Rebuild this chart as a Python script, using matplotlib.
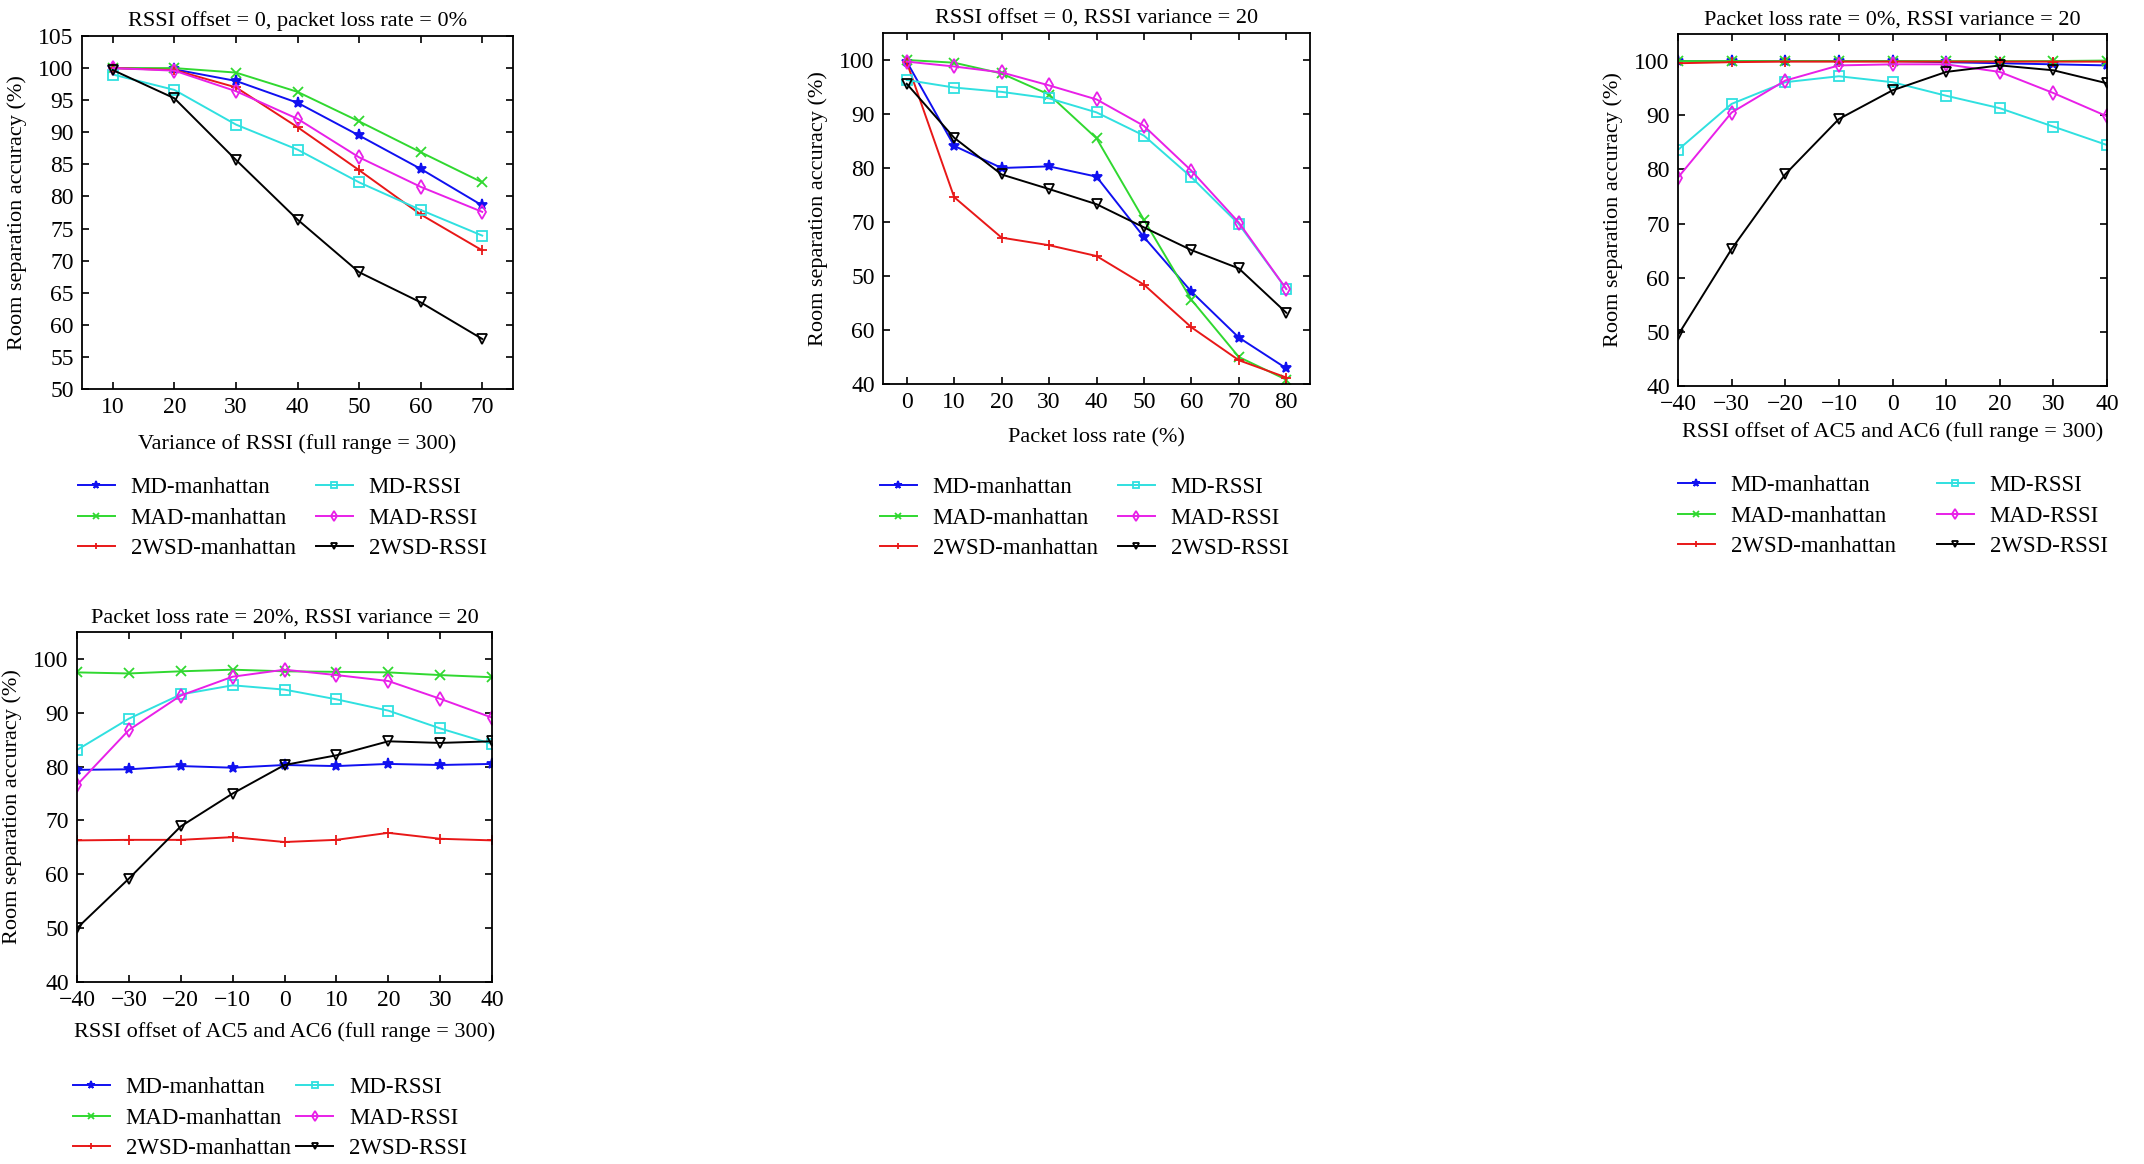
import numpy as np
import matplotlib
matplotlib.use("Agg")
import matplotlib.pyplot as plt

plt.rcParams['font.family'] = ['Liberation Serif', 'DejaVu Serif']

names = ["MD-manhattan", "MAD-manhattan", "2WSD-manhattan",
         "MD-RSSI", "MAD-RSSI", "2WSD-RSSI"]
colors = ["#1010f0", "#30d830", "#e81818", "#30e0e0", "#e820e8", "black"]
markers = ["*", "x", "+", "s", "d", "v"]

# panel 1: variance of RSSI
var_x = [10, 20, 30, 40, 50, 60, 70]
var_y = [
    [100.0, 99.8, 98.0, 94.6, 89.5, 84.3, 78.6],
    [100.0, 100.0, 99.3, 96.3, 91.7, 86.9, 82.2],
    [100.0, 99.7, 97.0, 90.8, 84.1, 77.2, 71.6],
    [99.0, 96.6, 91.2, 87.3, 82.2, 77.9, 73.9],
    [100.0, 99.6, 96.4, 92.1, 86.1, 81.5, 77.6],
    [99.7, 95.3, 85.7, 76.4, 68.2, 63.5, 57.8],
]

# panel 2: packet loss rate
loss_x = [0, 10, 20, 30, 40, 50, 60, 70, 80]
loss_y = [
    [99.7, 84.1, 80.0, 80.3, 78.4, 67.2, 57.1, 48.6, 42.9],
    [100.0, 99.5, 97.5, 93.6, 85.5, 70.4, 55.6, 45.0, 40.8],
    [99.6, 74.6, 67.1, 65.7, 63.7, 58.4, 50.5, 44.4, 41.2],
    [96.3, 94.9, 94.1, 92.9, 90.3, 86.0, 78.3, 69.6, 57.6],
    [99.7, 98.8, 97.7, 95.3, 92.7, 87.8, 79.5, 69.9, 57.6],
    [95.6, 85.6, 78.8, 76.1, 73.3, 69.0, 64.8, 61.4, 53.2],
]
loss_yticklabels = ["40", "60", "50", "70", "80", "90", "100"]

# panel 3: RSSI offset, packet loss 0%
off_x = [-40, -30, -20, -10, 0, 10, 20, 30, 40]
off0_y = [
    [100.0, 100.0, 100.0, 100.0, 100.0, 99.8, 99.6, 99.4, 99.2],
    [100.0, 100.0, 100.0, 100.0, 100.0, 100.0, 100.0, 100.0, 100.1],
    [99.6, 99.8, 99.9, 99.9, 99.9, 99.9, 99.9, 99.9, 99.9],
    [83.6, 92.1, 96.1, 97.2, 96.1, 93.6, 91.3, 87.9, 84.5],
    [78.5, 90.5, 96.4, 99.2, 99.4, 99.4, 98.0, 94.1, 89.8],
    [49.4, 65.3, 79.1, 89.3, 94.6, 98.0, 99.2, 98.3, 95.9],
]

# panel 4: RSSI offset, packet loss 20%
off20_y = [
    [79.4, 79.5, 80.1, 79.8, 80.3, 80.1, 80.5, 80.3, 80.5],
    [97.5, 97.3, 97.7, 98.0, 97.7, 97.6, 97.5, 97.0, 96.6],
    [66.3, 66.4, 66.4, 66.9, 66.0, 66.4, 67.7, 66.6, 66.3],
    [83.1, 88.9, 93.4, 95.1, 94.3, 92.5, 90.4, 87.1, 84.2],
    [76.6, 86.8, 93.2, 96.7, 98.0, 97.0, 95.9, 92.6, 89.1],
    [50.0, 59.2, 68.9, 75.0, 80.3, 82.1, 84.7, 84.4, 84.7],
]

W, H = 2144, 1164
fig = plt.figure(figsize=(W / 100., H / 100.), dpi=100)


def make_panel(rect, x, ys, title, xlabel, xlim, ylim, yticks, xticks, xpad, legend_xy, colsp,
               yticklabels=None):
    ax = fig.add_axes(rect)
    for i in range(6):
        filled = markers[i] in ("*", "x", "+")
        ax.plot(x, ys[i], color=colors[i], lw=1.4, marker=markers[i],
                ms=7 if markers[i] != "*" else 8,
                mfc=colors[i] if filled else "none", mew=1.3, label=names[i])
    ax.set_xlim(xlim)
    ax.set_ylim(ylim)
    ax.set_xticks(xticks)
    ax.set_yticks(yticks)
    if yticklabels is not None:
        ax.set_yticklabels(yticklabels)
    ax.tick_params(direction="in", top=True, right=True, length=5, width=1.2, labelsize=17, pad=6)
    for s in ax.spines.values():
        s.set_linewidth(1.3)
    ax.set_title(title, fontsize=16, pad=7)
    ax.set_xlabel(xlabel, fontsize=16, labelpad=xpad)
    ax.set_ylabel("Room separation accuracy (%)", fontsize=16, labelpad=8)
    ax.legend(loc="upper left", bbox_to_anchor=(legend_xy[0] / W, 1 - legend_xy[1] / H),
              bbox_transform=fig.transFigure, ncol=2, frameon=False, fontsize=16.5,
              handlelength=1.6, handletextpad=0.7, columnspacing=colsp,
              labelspacing=0.42, borderpad=0, borderaxespad=0, markerscale=0.7)
    return ax


make_panel([82 / W, 1 - 389 / H, 431 / W, 353 / H], var_x, var_y,
           "RSSI offset = 0, packet loss rate = 0%", "Variance of RSSI (full range = 300)",
           (5, 75), (50, 105), np.arange(50, 106, 5), var_x, 11, (78, 477), 0.88)

make_panel([883 / W, 1 - 384 / H, 427 / W, 351 / H], loss_x, loss_y,
           "RSSI offset = 0, RSSI variance = 20", "Packet loss rate (%)",
           (-5, 85), (40, 105), np.arange(40, 101, 10), loss_x, 11, (880, 477), 0.88,
           yticklabels=loss_yticklabels)

make_panel([1678 / W, 1 - 386 / H, 429 / W, 352 / H], off_x, off0_y,
           "Packet loss rate = 0%, RSSI variance = 20", "RSSI offset of AC5 and AC6 (full range = 300)",
           (-40, 40), (40, 105), np.arange(40, 101, 10), off_x, 5, (1678, 475), 1.8)

make_panel([77 / W, 1 - 982 / H, 415 / W, 350 / H], off_x, off20_y,
           "Packet loss rate = 20%, RSSI variance = 20", "RSSI offset of AC5 and AC6 (full range = 300)",
           (-40, 40), (40, 105), np.arange(40, 101, 10), off_x, 8, (73, 1077), 0.25)

fig.savefig("out.png", dpi=100)
